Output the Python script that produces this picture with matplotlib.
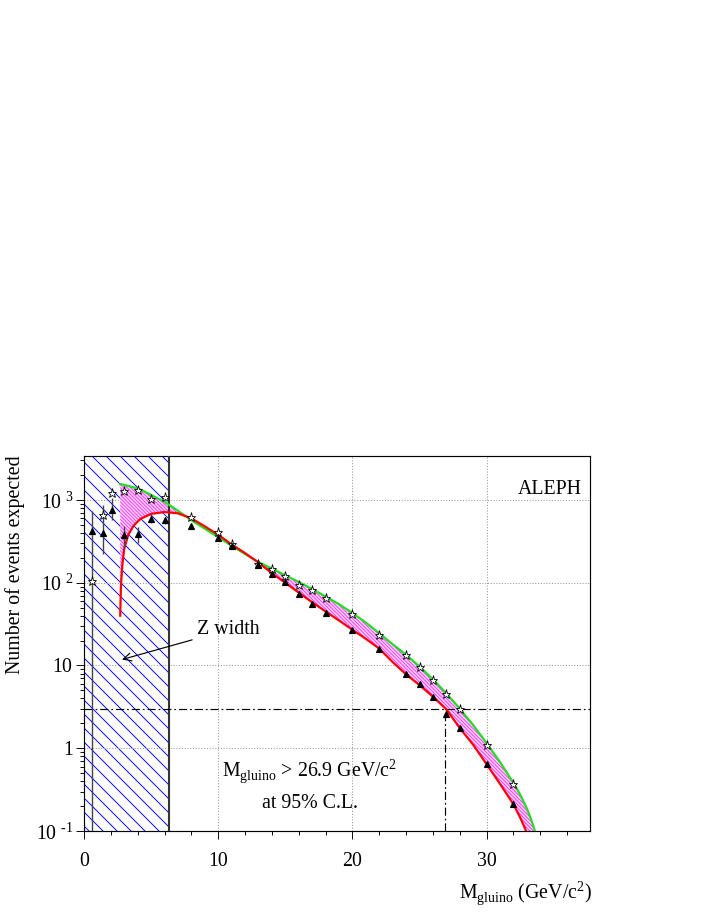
import numpy as np
import matplotlib
matplotlib.use('Agg')
import matplotlib.pyplot as plt

# Точки данных (звёзды и треугольники)
pt_mass = [0.6, 1.4, 2.1, 3, 4, 5, 6, 8, 10, 11, 13, 14, 15, 16, 17, 18,
           20, 22, 24, 25, 26, 27, 28, 30, 32]
star_n = [105, 660, 1200, 1280, 1330, 1030, 1100, 620, 410, 295, 168, 147,
          121, 95, 82, 66, 42, 23.6, 13.5, 9.5, 6.6, 4.5, 2.95, 1.1, 0.37]
tri_n = [425, 400, 760, 375, 390, 590, 570, 490, 350, 280, 165, 128, 102,
         74, 56, 43, 27, 16, 7.8, 5.9, 4.2, 2.6, 1.74, 0.64, 0.21]

# Ошибки для точек малой массы
err_mass = [0.6, 1.4, 2.1, 3, 4, 5, 6]
err_lo = [0.05, 220, 580, 260, 300, 520, 510]
err_hi = [730, 870, 1050, 480, 470, 660, 630]

# Кривые
curve_mass = [2.7, 2.75, 2.85, 3.0, 3.3, 3.7, 4.2, 5, 6, 7, 8, 9, 10, 11, 12,
              13, 14, 15, 16, 17, 18, 19, 20, 21, 22, 23, 24, 25, 26, 27, 28,
              29, 30, 31, 32, 32.5, 33, 33.3, 33.6]
green_n = [1550, 1550, 1540, 1520, 1480, 1420, 1340, 1150, 950, 740, 570, 450,
           355, 280, 222, 178, 148, 123, 102, 84, 68, 55, 43, 33, 24.5, 18,
           13.5, 9.7, 6.8, 4.6, 3.0, 1.9, 1.15, 0.68, 0.38, 0.275, 0.186,
           0.14, 0.1]
red_n = [40, 90, 160, 260, 380, 490, 590, 680, 715, 690, 600, 480, 380, 290,
         228, 175, 130, 100, 76, 58, 45, 35, 27, 21, 16, 11, 7.8, 5.8, 4.2,
         2.95, 1.75, 1.1, 0.64, 0.37, 0.21, 0.145, 0.095, 0.072, 0.055]

z_width = 6.3
limit_mass = 26.9
limit_events = 3.0

y_ticks = [0.1, 1, 10, 100, 1000]
y_labels = [r'10$^{\ \text{-}1}$', r'1$\enspace\,$', r'10$\enspace\,$',
            r'10$^{\ 2}$', r'10$^{\ 3}$']
x_ticks = [0, 10, 20, 30]

plt.rcParams['font.family'] = ['Liberation Serif', 'DejaVu Serif']
plt.rcParams['mathtext.fontset'] = 'custom'
plt.rcParams['mathtext.rm'] = 'Liberation Serif'
plt.rcParams['hatch.linewidth'] = 0.8

dpi = 84
fig = plt.figure(figsize=(708 / dpi, 917 / dpi), dpi=dpi)
ax = fig.add_axes([84 / 708, 1 - 831 / 917, 506 / 708, 375 / 917])

ax.set_yscale('log')
ax.set_xlim(0, 37.7)
ax.set_ylim(0.1, 3400)

# Область ширины Z
ax.axvspan(0, z_width, facecolor='none', edgecolor='blue', hatch='\\\\',
           linewidth=0, zorder=1)
ax.axvline(z_width, color='#333333', lw=1.8, zorder=3)

# Сетка
ax.grid(True, which='major', ls=':', color='#999999', lw=0.9)

# Полоса между кривыми
ax.fill_between(curve_mass, red_n, green_n, facecolor='#ffd6ff',
                edgecolor='#ff33ff', hatch='\\' * 8, linewidth=0, zorder=2)
ax.plot(curve_mass, green_n, color='#22dd22', lw=1.9, zorder=4)
ax.plot(curve_mass, red_n, color='red', lw=1.9, zorder=4)

# Ошибки и точки
ax.vlines(err_mass, err_lo, err_hi, color='#444444', lw=1.2, zorder=5)
ax.plot(pt_mass, star_n, ls='none', marker='*', ms=8, mfc='white',
        mec='black', mew=0.7, zorder=6)
ax.plot(pt_mass, tri_n, ls='none', marker='^', ms=4.5, color='black', zorder=6)

# Предел
dash = (0, (7, 2.5, 1.5, 2.5))
ax.axhline(limit_events, color='black', ls=dash, lw=1.0, zorder=3)
ax.plot([limit_mass, limit_mass], [0.1, limit_events], color='black',
        ls=dash, lw=1.0, zorder=3)

ax.annotate('Z width', xy=(2.83, 11.8), xytext=(8.4, 27), fontsize=17,
            va='center', ha='left',
            arrowprops=dict(arrowstyle='->', color='black', lw=1.0,
                            shrinkA=2, shrinkB=0))
ax.text(37.1, 1350, 'ALEPH', fontsize=17, ha='right', va='center')
ax.text(16.8, 0.53, r'M$_{\mathrm{gluino}}$ > 26.9 GeV/c$^{2}$', fontsize=17,
        ha='center', va='center')
ax.text(16.8, 0.217, 'at 95% C.L.', fontsize=17, ha='center', va='center')

# Оси
ax.set_xticks(x_ticks)
ax.set_xticks(np.arange(0, 38, 2), minor=True)
ax.set_yticks(y_ticks)
ax.set_yticklabels(y_labels)
ax.tick_params(which='both', direction='out', top=False, right=False,
               labelsize=17)
ax.tick_params(which='major', length=7, width=0.8)
ax.tick_params(which='minor', length=3.5, width=0.8)
ax.tick_params(axis='x', which='major', pad=11)
ax.tick_params(axis='y', which='major', pad=2)
for s in ax.spines.values():
    s.set_linewidth(1.0)

fig.text(15 / 708, 1 - 455 / 917, 'Number of events expected', rotation=90,
         fontsize=17, ha='center', va='top')
fig.text(592 / 708, 1 - 893 / 917, r'M$_{\mathrm{gluino}}$ (GeV/c$^{2}$)',
         fontsize=17, ha='right', va='center')

fig.savefig('out.png', dpi=dpi)
